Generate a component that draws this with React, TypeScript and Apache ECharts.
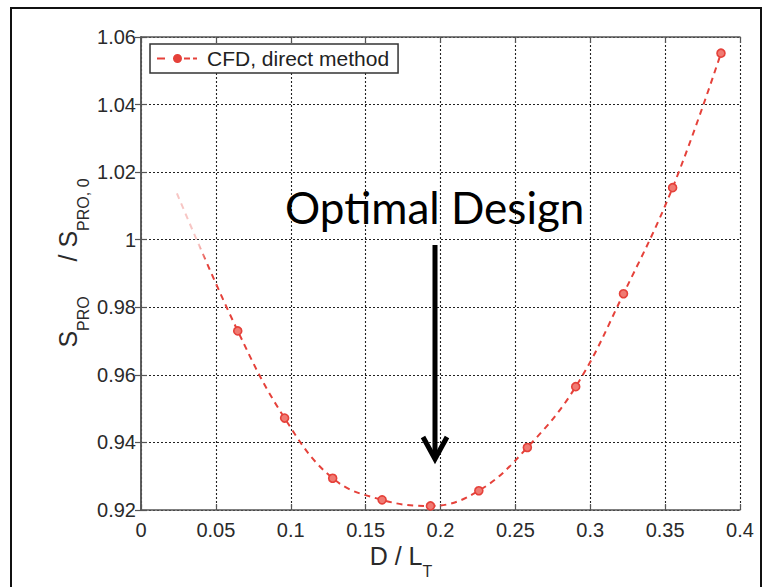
import React, { useEffect, useRef } from "react";
import * as echarts from "echarts";

// ---- data ----
const seriesName = "CFD, direct method";
const xValues = [0.024, 0.0646, 0.0959, 0.128, 0.161, 0.1933, 0.2256, 0.258, 0.2903, 0.3222, 0.355, 0.3873];
const yValues = [1.0137, 0.973, 0.9472, 0.9294, 0.923, 0.9212, 0.9257, 0.9385, 0.9565, 0.984, 1.0154, 1.0552];
const xMin = 0;
const xMax = 0.4;
const xStep = 0.05;
const yMin = 0.92;
const yMax = 1.06;
const yStep = 0.02;
const annotationText = "Optimal Design";
const xTitleMain = "D / L";
const xTitleSub = "T";
const yTitleMain1 = "S";
const yTitleSub1 = "PRO";
const yTitleMain2 = "/ S";
const yTitleSub2 = "PRO, 0";

const RED = "#e5413a";
const FONT = "'Liberation Sans', Arial, sans-serif";
const LEGEND_ICON =
  "path://M0,4h8v2h-8z M16,5a4.5,4.5 0 1,0 9,0a4.5,4.5 0 1,0 -9,0z M27,4h6v2h-6z M36,4h4v2h-4z";

const titleRich = {
  m: { fontSize: 25, fontFamily: FONT, fill: "#2a2a2a", lineHeight: 26, verticalAlign: "top" },
  s: {
    fontSize: 16,
    fontFamily: FONT,
    fill: "#2a2a2a",
    lineHeight: 16,
    padding: [20, 0, 0, 0],
    verticalAlign: "top",
  },
};

export default function App() {
  const ref = useRef<HTMLDivElement>(null);
  useEffect(() => {
    document.body.style.margin = "0";
    const chart = echarts.init(ref.current!, null, { renderer: "svg" });
    const data = xValues.map((x, i) =>
      i === 0 ? { value: [x, yValues[i]], symbol: "none" } : { value: [x, yValues[i]] }
    );
    const axisLabelStyle = { color: "#2a2a2a", fontSize: 20, fontFamily: FONT };
    const boxLine = { show: true, lineStyle: { color: "#555", width: 1.5 } };
    const innerTick = { show: true, inside: true, length: 6, lineStyle: { color: "#555", width: 1.2 } };
    const grid = { type: [2, 2], color: "#222", width: 1.1 };
    const option: any = {
      animation: false,
      backgroundColor: "#fff",
      grid: { left: 141, top: 37, width: 599, height: 473, containLabel: false },
      legend: {
        show: true,
        left: 150,
        top: 44,
        orient: "horizontal",
        padding: [4, 9, 4, 7],
        borderColor: "#333",
        borderWidth: 1.5,
        borderRadius: 0,
        backgroundColor: "#fff",
        itemWidth: 40,
        itemHeight: 9,
        icon: LEGEND_ICON,
        itemStyle: { color: RED, borderWidth: 0 },
        textStyle: { fontSize: 21, fontFamily: FONT, color: "#222", padding: [0, 0, 0, 5] },
        data: [seriesName],
      },
      xAxis: [
        {
          type: "value",
          min: xMin,
          max: xMax,
          interval: xStep,
          position: "bottom",
          axisLine: boxLine,
          axisTick: innerTick,
          axisLabel: { ...axisLabelStyle, margin: 10 },
          splitLine: { show: true, lineStyle: grid },
        },
        {
          type: "value",
          min: xMin,
          max: xMax,
          interval: xStep,
          position: "top",
          axisLine: boxLine,
          axisTick: innerTick,
          axisLabel: { show: false },
          splitLine: { show: false },
        },
      ],
      yAxis: [
        {
          type: "value",
          min: yMin,
          max: yMax,
          interval: yStep,
          position: "left",
          axisLine: boxLine,
          axisTick: innerTick,
          axisLabel: { ...axisLabelStyle, margin: 5 },
          splitLine: { show: true, lineStyle: grid },
        },
        {
          type: "value",
          min: yMin,
          max: yMax,
          interval: yStep,
          position: "right",
          axisLine: boxLine,
          axisTick: innerTick,
          axisLabel: { show: false },
          splitLine: { show: false },
        },
      ],
      series: [
        {
          name: seriesName,
          type: "line",
          data,
          smooth: 0.4,
          symbol: "circle",
          symbolSize: 8,
          showSymbol: true,
          itemStyle: { color: "#f07a72", borderColor: RED, borderWidth: 1.6 },
          lineStyle: {
            width: 2,
            type: [6, 5],
            color: new echarts.graphic.LinearGradient(0, 0, 1, 0, [
              { offset: 0, color: "rgba(229,65,58,0.3)" },
              { offset: 0.04, color: "rgba(229,65,58,0.3)" },
              { offset: 0.055, color: RED },
              { offset: 1, color: RED },
            ]),
          },
          z: 5,
        },
      ],
      graphic: [
        {
          type: "rect",
          shape: { x: 11, y: 8, width: 750, height: 600 },
          style: { fill: "none", stroke: "#111", lineWidth: 2 },
          silent: true,
          z: 100,
        },
        {
          type: "text",
          x: 285,
          y: 207,
          style: {
            text: annotationText,
            fontFamily: "Lato, 'Open Sans', sans-serif",
            fontSize: 44,
            fill: "#000",
            align: "left",
            verticalAlign: "middle",
          },
          z: 50,
        },
        {
          type: "line",
          shape: { x1: 435, y1: 245, x2: 435, y2: 458 },
          style: { stroke: "#000", lineWidth: 5 },
          z: 50,
        },
        {
          type: "polyline",
          shape: { points: [[423, 437], [435, 459], [447, 437]] },
          style: { stroke: "#000", lineWidth: 5, fill: null, lineJoin: "miter" },
          z: 50,
        },
        {
          type: "text",
          x: 401,
          y: 556,
          style: {
            text: `{m|${xTitleMain}}{s|${xTitleSub}}`,
            align: "center",
            verticalAlign: "middle",
            rich: titleRich,
          },
          z: 50,
        },
        {
          type: "text",
          x: 68,
          y: 263,
          rotation: Math.PI / 2,
          style: {
            text: `{m|${yTitleMain1}}{s|${yTitleSub1}}{m|     ${yTitleMain2}}{s|${yTitleSub2}}`,
            align: "center",
            verticalAlign: "middle",
            rich: titleRich,
          },
          z: 50,
        },
      ],
    };
    chart.setOption(option);
    return () => chart.dispose();
  }, []);
  return <div ref={ref} style={{ width: 767, height: 587 }} />;
}
